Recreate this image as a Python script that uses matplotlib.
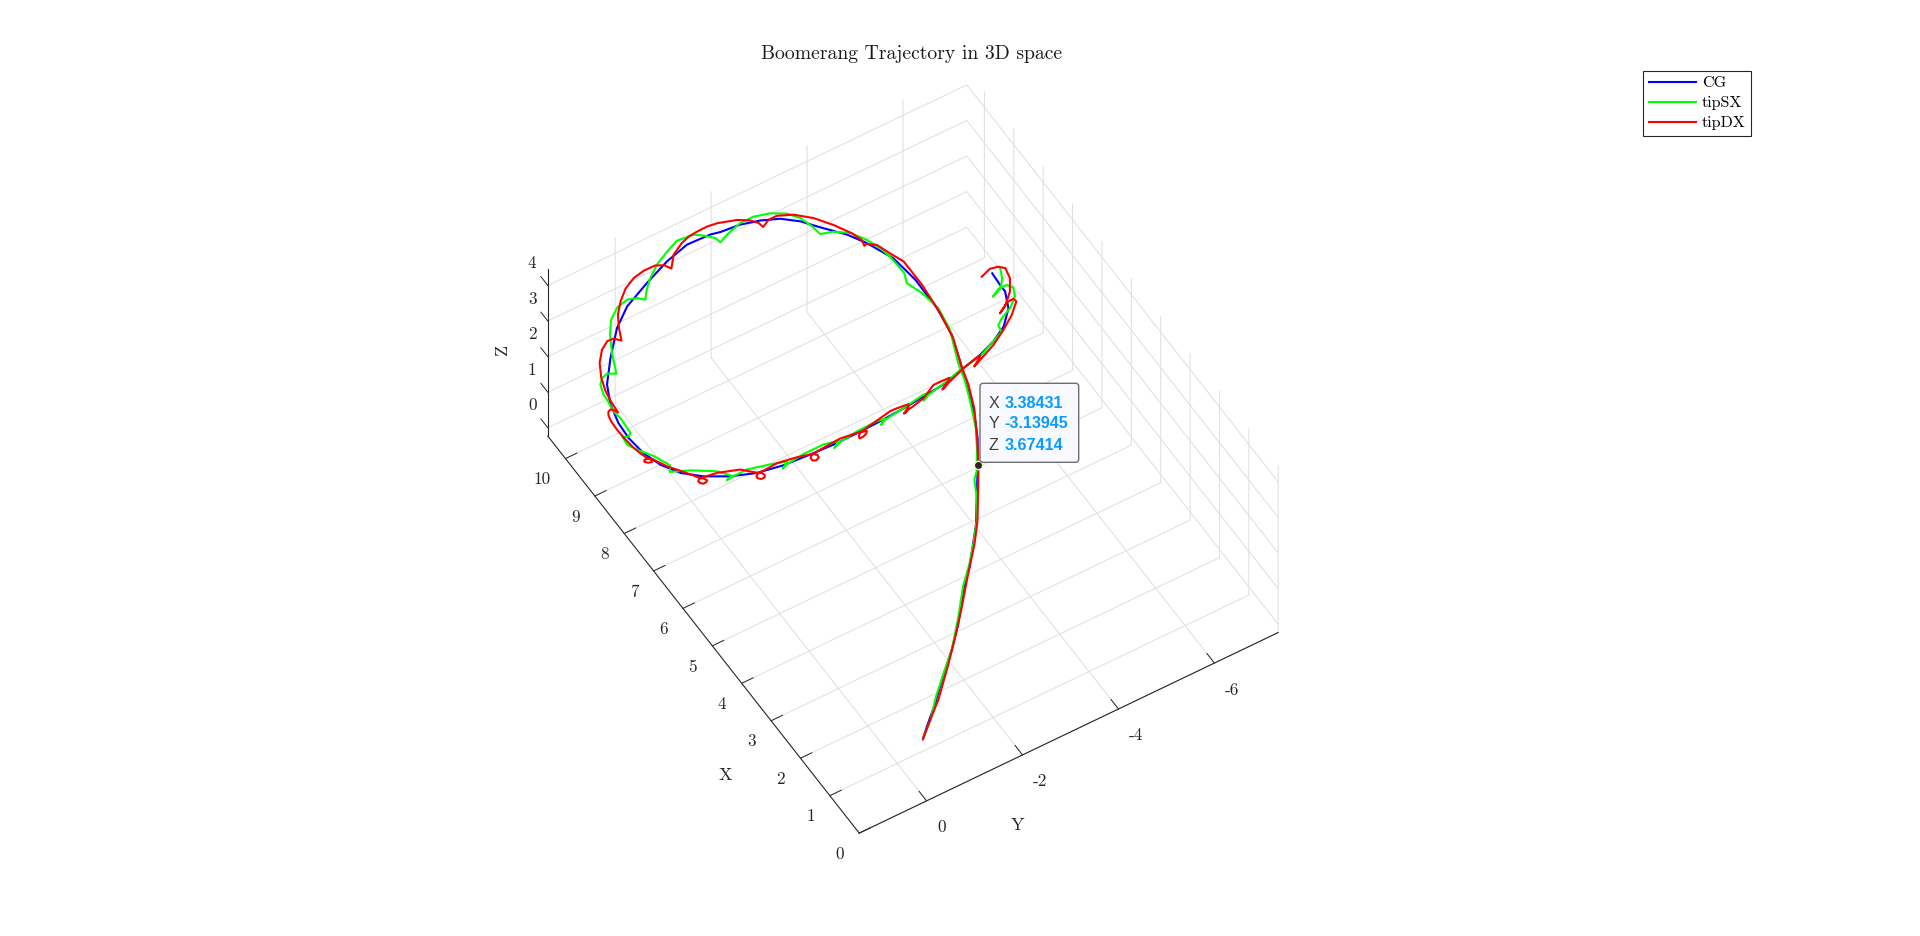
import matplotlib
matplotlib.use("Agg")
import matplotlib.pyplot as plt
from matplotlib.lines import Line2D
from matplotlib.patches import FancyBboxPatch
from matplotlib.transforms import IdentityTransform

plt.rcParams["font.family"] = "cmr10"
plt.rcParams["axes.unicode_minus"] = False
plt.rcParams["axes.formatter.use_mathtext"] = True

XLIM = (0, 10.6)
YLIM = (-7.33, 1.404)
ZLIM = (-0.233, 4.45)
x_ticks = list(range(0, 11))
y_ticks = [0, -2, -4, -6]
z_ticks = list(range(0, 5))

# centre of gravity
cg_x = [0.07, 0.17, 0.42, 0.73, 1.02, 1.31, 1.77, 1.99, 2.53, 2.99, 3.35, 3.75, 4.23, 4.75, 5.23, 5.79, 6.41, 7.16, 7.78, 8.32,
        8.67, 9.06, 9.36, 9.63, 9.78, 9.89, 9.93, 10.01, 10.03, 9.96, 9.83, 9.7, 9.51, 9.16, 8.82, 8.51, 8.17, 7.89, 7.56, 7.25,
        6.97, 6.76, 6.58, 6.47, 6.44, 6.47, 6.51, 6.59, 6.64, 6.71, 6.79, 6.88, 7.02, 7.17, 7.31, 7.5, 7.81, 8.17, 8.34, 8.64]
cg_y = [0.02, -0.1, -0.43, -0.79, -1.15, -1.46, -1.86, -2.11, -2.58, -2.88, -3.12, -3.36, -3.58, -3.74, -3.9, -4.07, -4.14, -4.15, -4.07, -3.85,
        -3.65, -3.33, -3.1, -2.85, -2.53, -2.17, -1.78, -1.62, -1.15, -0.69, -0.19, 0.3, 0.63, 0.98, 1.26, 1.38, 1.42, 1.38, 1.27, 1.11,
        0.86, 0.51, 0.06, -0.42, -0.96, -1.53, -2.12, -2.72, -3.17, -3.7, -4.16, -4.67, -5.03, -5.51, -5.87, -6.2, -6.49, -6.64, -6.64, -6.66]
cg_z = [1.5, 1.57, 1.76, 1.99, 2.2, 2.4, 2.69, 2.85, 3.2, 3.46, 3.674, 3.85, 3.95, 4.05, 4.1, 4.15, 4.2, 4.2, 4.2, 4.2,
        4.2, 4.2, 4.2, 4.15, 4.15, 4.15, 4.15, 4.1, 4.1, 4.0, 3.85, 3.65, 3.45, 3.2, 3.0, 2.85, 2.7, 2.55, 2.4, 2.3,
        2.2, 2.1, 2.0, 1.9, 1.8, 1.7, 1.6, 1.5, 1.45, 1.4, 1.35, 1.3, 1.25, 1.2, 1.2, 1.2, 1.2, 1.2, 1.2, 1.2]
TIP_INDEX = 10

# left wing tip
sx_x = [0.05, 0.3, 0.54, 0.76, 1.02, 1.44, 1.81, 2.06, 2.23, 2.59, 2.86, 3.24, 3.23, 3.56, 3.96, 4.46, 4.83, 5.21, 5.9, 6.39,
        6.84, 7.17, 7.39,
        7.84, 8.1, 8.38, 8.67, 8.85, 8.93, 9.15, 9.42, 9.67, 9.83, 9.92, 9.92, 9.83, 9.73, 9.89, 10.05, 10.16, 10.2, 10.15, 10.06,
        9.87, 9.67, 9.52, 9.73, 9.83, 9.84, 9.76, 9.55, 9.28, 8.94, 9.03, 9.02, 8.95, 8.76, 8.61,
        8.34, 8.25, 7.97, 7.92, 7.96, 7.78, 7.69, 7.41, 7.15, 7.09, 6.93, 6.8, 6.58, 6.54, 6.55, 6.63, 6.58, 6.48, 6.38, 6.43, 6.54,
        6.61, 6.54, 6.44, 6.5, 6.62, 6.67, 6.64, 6.56, 6.62, 6.71, 6.82, 6.81, 6.7, 6.77, 6.91, 7.03, 7.14, 7.29, 7.42, 7.57,
        7.68, 7.8, 7.98, 8.17, 8.28, 8.28, 8.18, 8.27, 8.45, 8.66]
sx_y = [0.04, -0.27, -0.52, -0.81, -1.15, -1.54, -1.87, -2.15, -2.35, -2.63, -2.8, -2.98, -3.02, -3.23, -3.45, -3.64, -3.76, -3.85, -4.1, -4.16,
        -4.09, -3.98, -4.06,
        -4.04, -3.99, -3.89, -3.72, -3.48, -3.25, -3.22, -3.14, -3.01, -2.76, -2.47, -2.19, -1.89, -1.66, -1.66, -1.51, -1.37, -1.04, -0.81, -0.54,
        -0.27, -0.08, 0.03, 0.07, 0.22, 0.42, 0.6, 0.75, 0.87, 0.99, 1.13, 1.24, 1.32, 1.37, 1.38,
        1.42, 1.33, 1.29, 1.36, 1.46, 1.48, 1.33, 1.15, 0.97, 1.01, 0.68, 0.2, 0.03, 0.16, 0.05, -0.31, -0.77, -1.06, -0.91, -1.04, -1.44,
        -1.9, -2.17, -2.02, -2.16, -2.6, -3.05, -3.2, -3.07, -3.19, -3.63, -4.11, -4.19, -4.04, -4.19, -4.69, -5.01, -5.49, -5.82, -6.11, -6.13,
        -6.27, -6.52, -6.73, -6.81, -6.74, -6.57, -6.39, -6.61, -6.75, -6.84]
sx_z = [1.5, 1.57, 1.76, 1.99, 2.2, 2.4, 2.69, 2.85, 3.2, 3.2, 3.46, 3.46, 3.67, 3.85, 3.85, 3.95, 4.05, 4.1, 4.15, 4.2,
        4.2, 4.2, 4.2,
        4.2, 4.2, 4.2, 4.2, 4.2, 4.2, 4.2, 4.2, 4.15, 4.15, 4.15, 4.15, 4.15, 4.15, 4.1, 4.1, 4.1, 4.1, 4.0, 3.9,
        3.85, 3.85, 3.85, 3.7, 3.65, 3.55, 3.4, 3.3, 3.1, 3.0, 3.0, 2.95, 2.9, 2.85, 2.85,
        2.85, 2.7, 2.55, 2.55, 2.55, 2.55, 2.4, 2.4, 2.3, 2.2, 2.2, 2, 2, 2, 2, 1.9, 1.8, 1.8, 1.8, 1.8, 1.7,
        1.6, 1.6, 1.6, 1.6, 1.5, 1.45, 1.45, 1.45, 1.45, 1.4, 1.35, 1.35, 1.35, 1.35, 1.3, 1.25, 1.2, 1.2, 1.2, 1.2,
        1.2, 1.2, 1.2, 1.2, 1.2, 1.2, 1.2, 1.2, 1.2, 1.2]

# right wing tip
dx_x = [0.03, 0.27, 0.48, 0.91, 1.22, 1.6, 1.91, 2.16, 2.58, 2.98, 3.33, 3.75, 4.29, 4.73, 5.11, 5.71, 6.28, 7, 7.62, 7.9,
        8.19, 8.31, 8.29, 8.43, 8.65, 8.98, 9.3, 9.55, 9.72, 9.72, 9.63, 9.75, 9.88, 10.01, 10.13,
        10.16, 10.19, 10.17, 10.11, 10.03, 9.78,
        9.91, 9.99, 10.03, 10.05, 9.92, 9.86, 9.69, 9.49, 9.26, 9.44, 9.45, 9.4, 9.17, 9, 8.77, 8.56,
        8.49, 8.38, 8.47, 8.51, 8.48, 8.41, 8.27, 8.06, 7.94, 7.65,
        7.59, 7.45, 7.35, 7.31, 7.33, 7.38, 7.42, 7.42, 7.35, 7.16, 6.96,
        6.76, 6.71, 6.65, 6.62, 6.62, 6.66, 6.71, 6.75, 6.75, 6.77, 6.62,
        6.47, 6.42, 6.36, 6.31, 6.31, 6.36, 6.41, 6.45, 6.45, 6.54, 6.54,
        6.48, 6.45, 6.39, 6.33, 6.3, 6.33, 6.4, 6.45, 6.46, 6.47, 6.57,
        6.59, 6.56, 6.54, 6.49, 6.46, 6.46, 6.52, 6.57, 6.59, 6.61, 6.74,
        6.77, 6.74, 6.7, 6.64, 6.6, 6.6, 6.64, 6.65, 6.75,
        6.95, 6.95, 6.94, 6.89, 6.83, 6.78, 6.79, 6.85, 7.03,
        7.12, 7.16, 7.11, 7.04, 7, 7.02, 7.09,
        7.24, 7.44, 7.65, 7.87, 7.95, 7.94, 7.79, 7.88, 8.12, 8.38, 8.62, 8.71, 8.75, 8.67]
dx_y = [0.06, -0.23, -0.54, -1.01, -1.34, -1.71, -2.04, -2.32, -2.64, -2.9, -3.12, -3.35, -3.62, -3.77, -3.86, -4.05, -4.13, -4.19, -4.19, -4.08,
        -3.98, -3.83, -3.78, -3.81, -3.74, -3.56, -3.34, -3.08, -2.83, -2.66, -2.49, -2.47, -2.37, -2.18, -1.84,
        -1.65, -1.46, -1.27, -1.09, -0.87, -0.67,
        -0.6, -0.46, -0.25, -0.05, 0.2, 0.34, 0.5, 0.6, 0.69, 0.74, 0.87, 1.01, 1.2, 1.27, 1.32, 1.34,
        1.29, 1.3, 1.34, 1.38, 1.44, 1.48, 1.51, 1.52, 1.45, 1.42,
        1.32, 1.28, 1.23, 1.25, 1.31, 1.36, 1.34, 1.28, 1.2, 1.03, 0.8,
        0.58, 0.53, 0.5, 0.54, 0.6, 0.64, 0.65, 0.61, 0.55, 0.22, -0.17,
        -0.43, -0.5, -0.52, -0.49, -0.42, -0.37, -0.38, -0.44, -0.53, -0.89, -1.3,
        -1.5, -1.59, -1.64, -1.63, -1.56, -1.5, -1.5, -1.56, -1.66, -1.74, -2.22,
        -2.59, -2.7, -2.76, -2.72, -2.63, -2.56, -2.58, -2.65, -2.76, -2.84, -3.37,
        -3.51, -3.75, -3.73, -3.64, -3.57, -3.6, -3.69, -3.77, -4.07,
        -4.4, -4.56, -4.73, -4.67, -4.56, -4.48, -4.53, -4.65, -5.07,
        -5.31, -5.5, -5.45, -5.34, -5.28, -5.33, -5.49,
        -5.83, -6.16, -6.46, -6.69, -6.68, -6.54, -6.3, -6.46, -6.71, -6.87, -6.92, -6.83, -6.68, -6.46]
dx_z = [1.5, 1.57, 1.76, 1.99, 2.2, 2.4, 2.85, 3.2, 3.2, 3.46, 3.67, 3.85, 3.95, 4.05, 4.1, 4.15, 4.2, 4.2, 4.2, 4.2,
        4.2, 4.2, 4.2, 4.2, 4.2, 4.2, 4.2, 4.2, 4.15, 4.15, 4.15, 4.15, 4.15, 4.15, 4.15,
        4.15, 4.1, 4.1, 4.1, 4.0, 4.0,
        4.0, 4.0, 3.95, 3.85, 3.85, 3.65, 3.55, 3.45, 3.4, 3.3, 3.3, 3.2, 3.2, 3.0, 2.9, 2.85,
        2.7, 2.7, 2.7, 2.7, 2.7, 2.7, 2.7, 2.7, 2.55, 2.55,
        2.4, 2.4, 2.4, 2.4, 2.4, 2.4, 2.4, 2.4, 2.4, 2.3, 2.2,
        2.1, 2.1, 2.1, 2.1, 2.1, 2.1, 2.1, 2.1, 2.1, 2.0, 2.0,
        1.9, 1.9, 1.9, 1.9, 1.9, 1.9, 1.9, 1.9, 1.9, 1.8, 1.7,
        1.7, 1.7, 1.7, 1.7, 1.7, 1.7, 1.7, 1.7, 1.7, 1.7, 1.6,
        1.5, 1.5, 1.5, 1.5, 1.5, 1.5, 1.5, 1.5, 1.5, 1.5, 1.45,
        1.4, 1.4, 1.4, 1.4, 1.4, 1.4, 1.4, 1.4, 1.35,
        1.3, 1.3, 1.3, 1.3, 1.3, 1.3, 1.3, 1.3, 1.25,
        1.2, 1.2, 1.2, 1.2, 1.2, 1.2, 1.2,
        1.2, 1.2, 1.2, 1.2, 1.2, 1.2, 1.2, 1.2, 1.2, 1.2, 1.2, 1.2, 1.2, 1.2]

tip_rows = [("X", "3.38431"), ("Y", "-3.13945"), ("Z", "3.67414")]

W = 1100
fig = plt.figure(figsize=(19.2, 9.36), dpi=100)
ax = fig.add_axes([(913 - 0.5135 * W) / 1920, (936 - 534 - 0.5135 * W + 83) / 936, W / 1920, W / 936],
                  projection="3d", proj_type="ortho", computed_zorder=False)
ax.view_init(elev=51.38, azim=148.5)
ax.set_box_aspect((596, 491.4, 267), zoom=793.4 / W)
ax.set_xlim(*XLIM)
ax.set_ylim(*YLIM)
ax.set_zlim(*ZLIM)
ax.set_xticks(x_ticks, labels=[str(t) for t in x_ticks], ha="right")
ax.set_yticks(y_ticks, labels=[str(t) for t in y_ticks], ha="left")
ax.set_zticks(z_ticks, labels=[str(t) for t in z_ticks], ha="right", va="bottom")

for axis, out in ((ax.xaxis, 0.34), (ax.yaxis, 0.3), (ax.zaxis, 0.28)):
    axis.set_pane_color((1, 1, 1, 0))
    axis.pane.set_edgecolor((1, 1, 1, 0))
    axis.line.set_color("#262626")
    axis.line.set_linewidth(0.8)
    axis._axinfo["grid"].update(color="#e0e0e0", linewidth=0.75)
    axis._axinfo["tick"].update(inward_factor=0.0, outward_factor=out,
                                linewidth={True: 0.7, False: 0.7})
    axis.set_ticks_position("lower")
ax.zaxis.set_ticks_position("upper")
# z ticks and their labels in the reference sit along +X
ax.zaxis._get_tickdir = lambda position: 0
ax.zaxis._axmask = lambda: [True, False, False]
ax.tick_params(colors="#262626", labelsize=12.3, pad=6)
ax.tick_params(axis="x", pad=7)
ax.tick_params(axis="z", pad=7)

ax.plot(cg_x, cg_y, cg_z, color=(0, 0, 1), lw=1.5, zorder=3)
ax.plot(sx_x, sx_y, sx_z, color=(0, 1, 0), lw=1.5, zorder=4)
ax.plot(dx_x, dx_y, dx_z, color=(1, 0, 0), lw=1.5, zorder=5)
ax.plot(cg_x[TIP_INDEX:TIP_INDEX + 1], cg_y[TIP_INDEX:TIP_INDEX + 1], cg_z[TIP_INDEX:TIP_INDEX + 1], "o",
        ms=6, mfc="#262626", mec="#fff8dc", mew=1, zorder=6)

fig.text(912 / 1920, 1 - 54 / 936, "Boomerang Trajectory in 3D space", ha="center", va="center",
         fontsize=14.2, color="#1a1a1a")
fig.text(725 / 1920, 1 - 775 / 936, "X", ha="center", va="center", fontsize=13, color="#262626")
fig.text(1017.5 / 1920, 1 - 825 / 936, "Y", ha="center", va="center", fontsize=13, color="#262626")
fig.text(502 / 1920, 1 - 349 / 936, "Z", ha="center", va="center", rotation=90, fontsize=13, color="#262626")

handles = [Line2D([], [], color=c, lw=1.5) for c in ((0, 0, 1), (0, 1, 0), (1, 0, 0))]
leg = fig.legend(handles, ["CG", "tipSX", "tipDX"], loc="upper left",
                 bbox_to_anchor=(1643.3 / 1920, 1 - 70.7 / 936), borderaxespad=0,
                 fontsize=11.6, fancybox=False, framealpha=1, edgecolor="#262626",
                 handlelength=2.95, handletextpad=0.35, borderpad=0.33, labelspacing=0.36)
leg.get_frame().set_linewidth(0.8)

# data tip box
box = FancyBboxPatch((982, 936 - 460.3), 94.7, 75, boxstyle="round,pad=2,rounding_size=3",
                     transform=IdentityTransform(), fc="#f8f9ff", ec="#6e6e6e", lw=1, zorder=5)
fig.add_artist(box)
for (name, val), py in zip(tip_rows, (403.3, 424, 445)):
    fig.text(988.3 / 1920, 1 - py / 936, name, family="Liberation Sans", fontsize=11.6,
             color="#404040", va="center", zorder=6)
    fig.text(1004.5 / 1920, 1 - py / 936, val, family="Liberation Sans", fontsize=11.6,
             weight="bold", color="#0a9bff", va="center", zorder=6)

fig.savefig("out.png", dpi=100)
